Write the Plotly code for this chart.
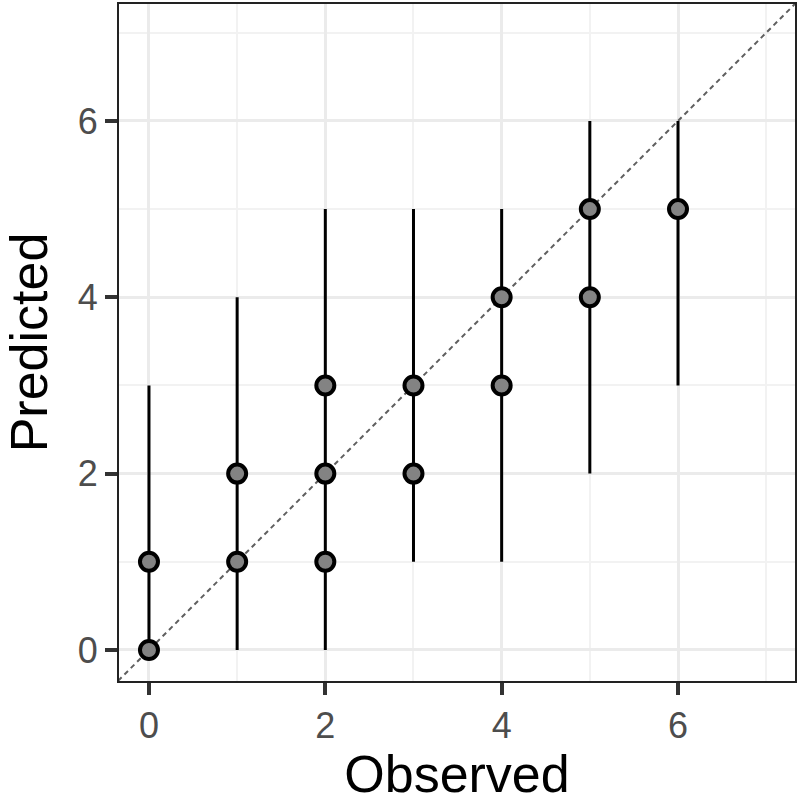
import plotly.graph_objects as go

# observed class, predicted point estimates and interval bounds
OBS_POINTS = [0, 0, 1, 1, 2, 2, 2, 3, 3, 4, 4, 5, 5, 6]
PRED_POINTS = [0, 1, 1, 2, 1, 2, 3, 2, 3, 3, 4, 4, 5, 5]

OBS_BARS = [0, 1, 2, 3, 4, 5, 6]
PRED_LOW = [0, 0, 0, 1, 1, 2, 3]
PRED_HIGH = [3, 4, 5, 5, 5, 6, 6]

X_RANGE = [-0.34, 7.327]
Y_RANGE = [-0.352, 7.326]
TICKS = [0, 2, 4, 6]
MINOR = [1, 3, 5, 7]

FONT = "Liberation Sans, Arial, sans-serif"

fig = go.Figure()

# diagonal reference line y = x
fig.add_trace(go.Scatter(
    x=[-1, 8], y=[-1, 8], mode="lines",
    line=dict(color="#5f5f5f", width=2, dash="5px,4px"),
    hoverinfo="skip", showlegend=False))

# vertical interval segments
seg_x, seg_y = [], []
for x, lo, hi in zip(OBS_BARS, PRED_LOW, PRED_HIGH):
    seg_x += [x, x, None]
    seg_y += [lo, hi, None]
fig.add_trace(go.Scatter(
    x=seg_x, y=seg_y, mode="lines",
    line=dict(color="black", width=3),
    hoverinfo="skip", showlegend=False))

fig.add_trace(go.Scatter(
    x=OBS_POINTS, y=PRED_POINTS, mode="markers",
    marker=dict(size=18, color="#838383", line=dict(color="black", width=4)),
    showlegend=False))

axis_common = dict(
    tickvals=TICKS,
    showgrid=True, gridcolor="#ebebeb", gridwidth=3,
    minor=dict(tickvals=MINOR, showgrid=True, gridcolor="#f2f2f2", gridwidth=1.5, ticks=""),
    zeroline=False,
    showline=True, linecolor="#222222", linewidth=2, mirror=True,
    ticks="outside", ticklen=12, tickwidth=3.5, tickcolor="#333333",
    tickfont=dict(family=FONT, size=36, color="#4d4d4d"),
)

fig.update_layout(
    width=800, height=803,
    plot_bgcolor="white", paper_bgcolor="white",
    margin=dict(l=119, r=5, t=4, b=122, autoexpand=False),
    xaxis=dict(axis_common, range=X_RANGE,
               title=dict(text="Observed", standoff=10,
                          font=dict(family=FONT, size=52, color="black"))),
    yaxis=dict(axis_common, range=Y_RANGE,
               title=dict(text="Predicted", standoff=16,
                          font=dict(family=FONT, size=52, color="black"))),
)

# drop the default page margin so the figure sits at the window origin
fig.write_html("out.html", config={"displayModeBar": False},
               post_script="document.body.style.margin='0';")
